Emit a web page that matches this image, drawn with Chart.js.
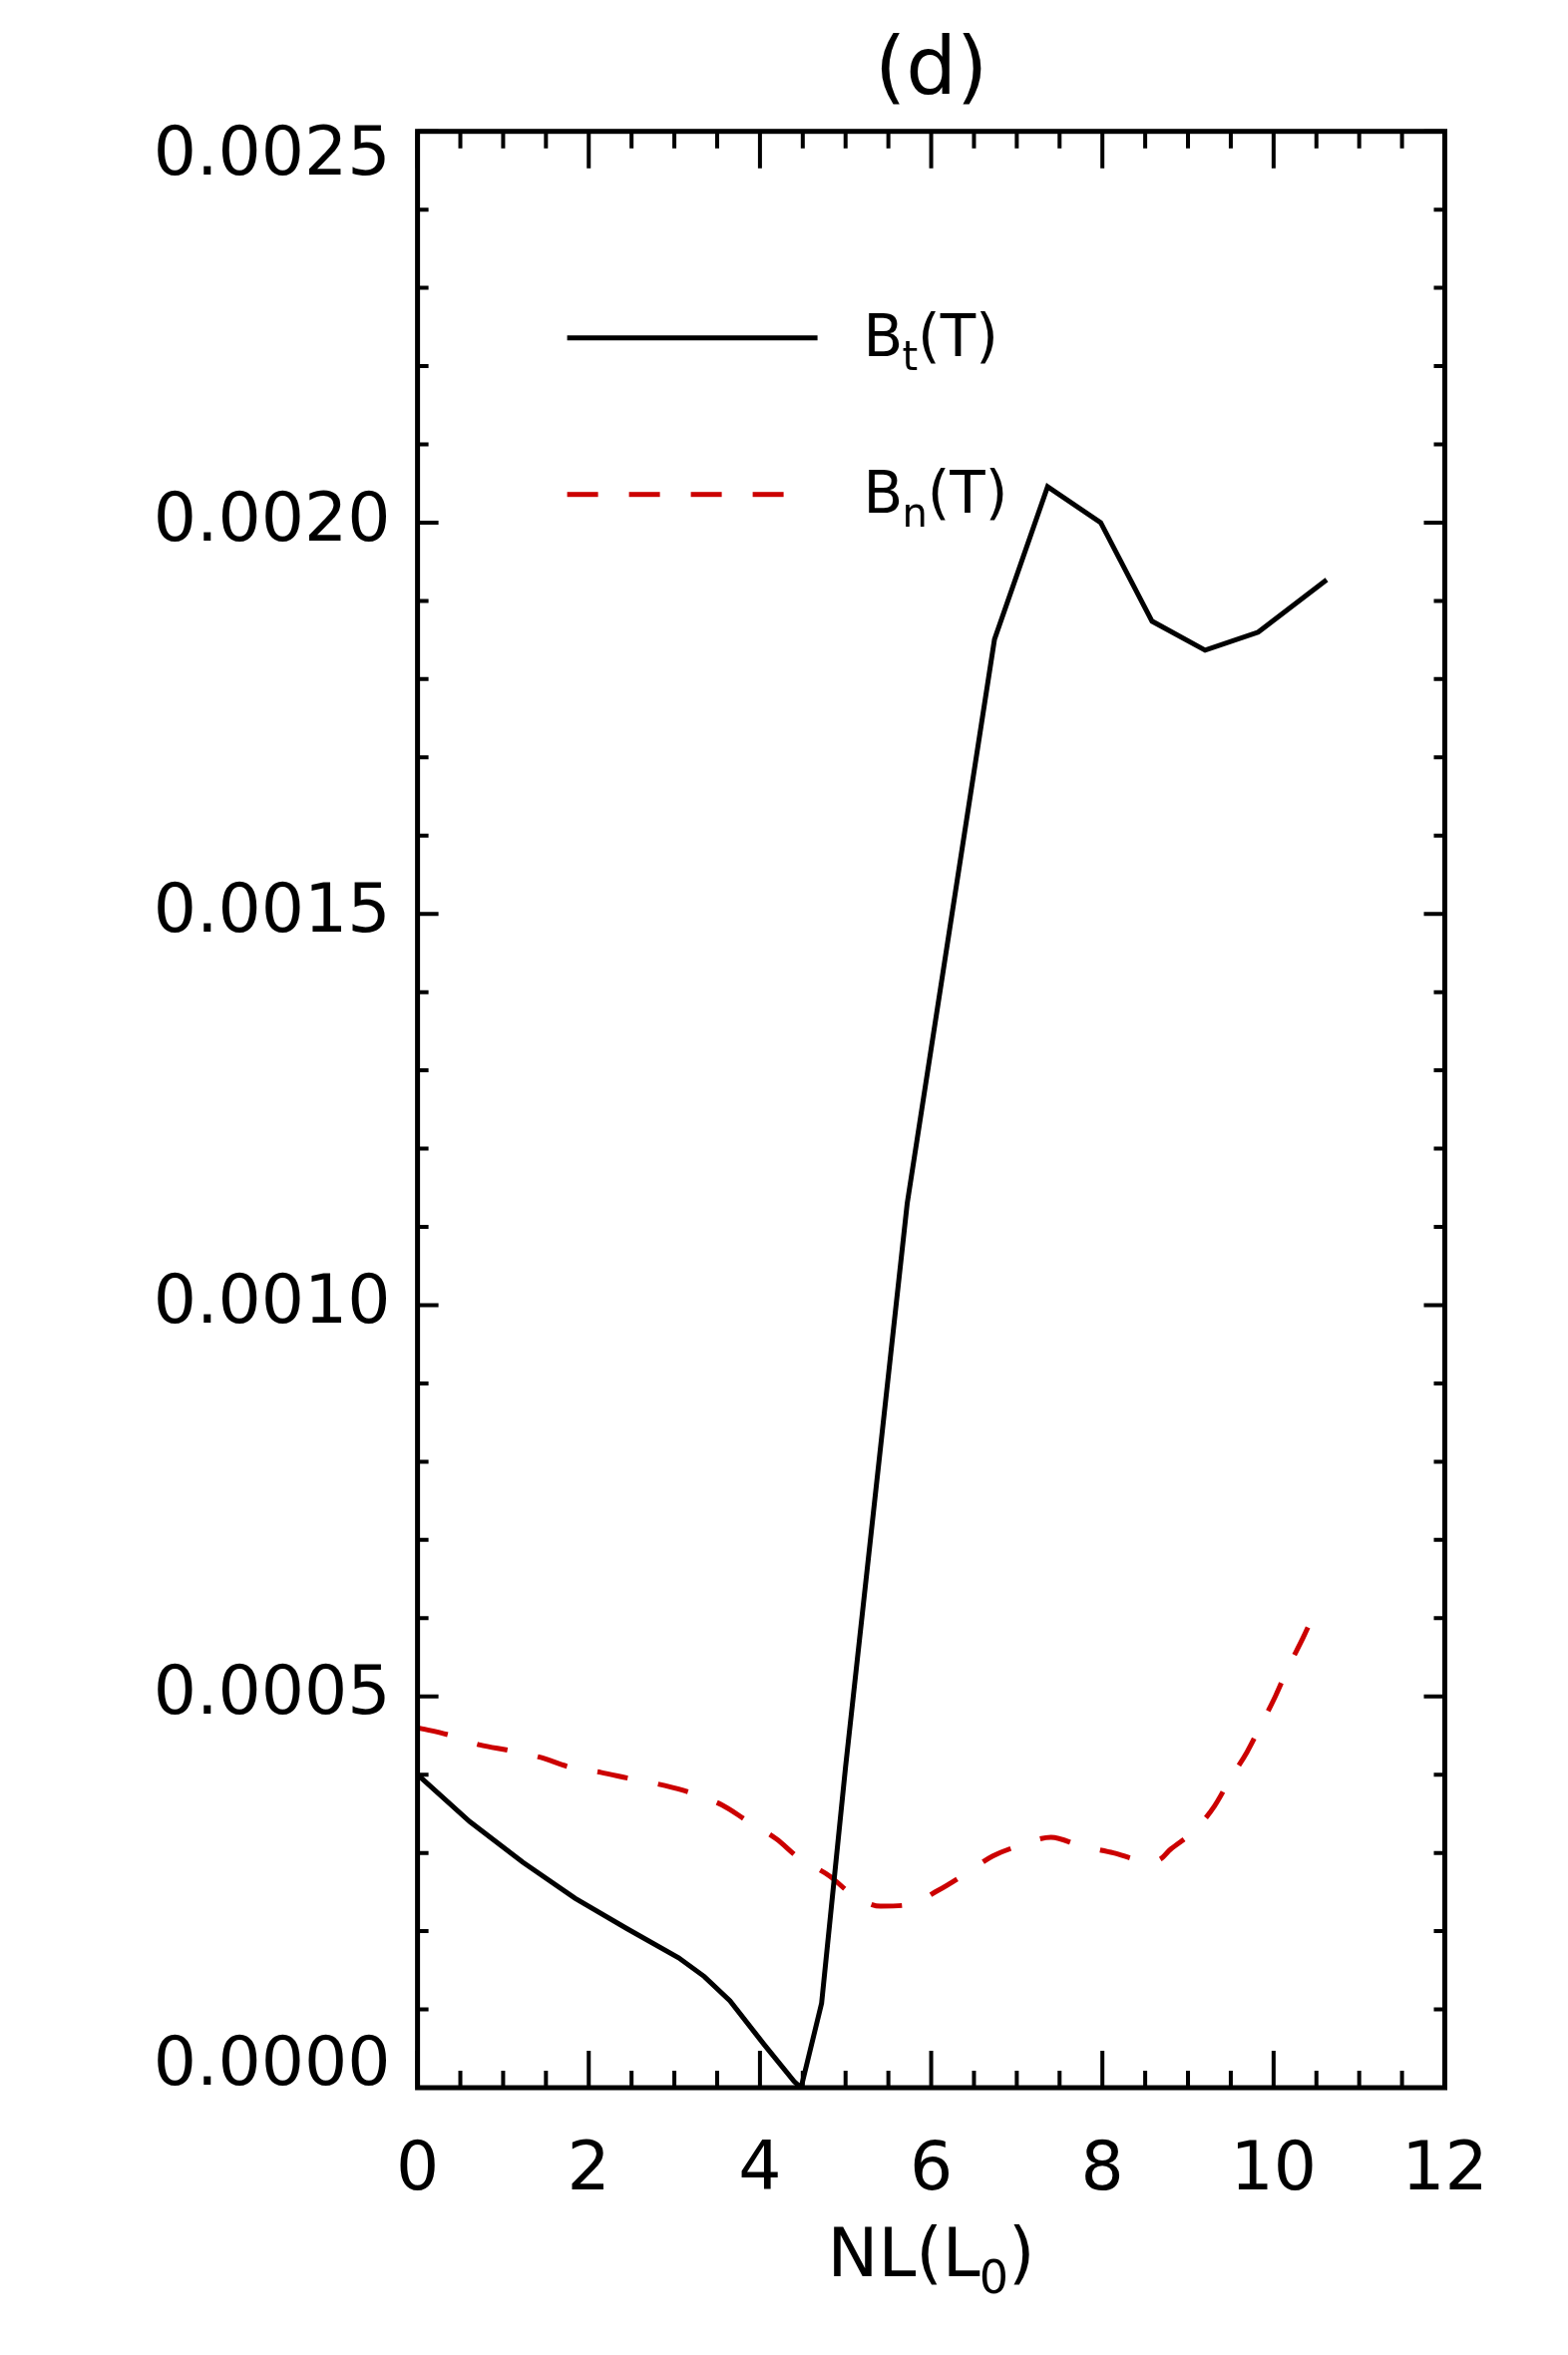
<!DOCTYPE html>
<html>
<head>
<meta charset="utf-8">
<title>(d)</title>
<script src="https://cdn.jsdelivr.net/npm/chart.js@4.4.0/dist/chart.umd.min.js"></script>
<style>
  html, body { margin: 0; padding: 0; background: #fff; }
  #wrap { width: 1572px; height: 2361px; }
</style>
</head>
<body>
<div id="wrap"><canvas id="myChart" width="1572" height="2361"></canvas></div>
<script>
// Bt(T), solid black
const btX = [0, 0.61, 1.23, 1.84, 2.45, 3.05, 3.35, 3.65, 4.05, 4.40, 4.48, 4.72, 5.00, 5.72, 6.74, 7.36, 7.98, 8.58, 9.20, 9.82, 10.62];
const btY = [0.000400, 0.000340, 0.000288, 0.000242, 0.000203, 0.000166, 0.000142, 0.000111, 0.000055, 0.000008, 0.0, 0.000108, 0.000410, 0.001130, 0.001851, 0.002046, 0.002000, 0.001874, 0.001837, 0.001860, 0.001927];

// Bn(T), red dashed
const bnX = [0, 0.36, 0.73, 1.07, 1.44, 1.77, 2.14, 2.48, 2.89, 3.19, 3.56, 3.85, 4.19, 4.45, 4.82, 5.04, 5.41, 5.75, 6.08, 6.41, 6.72, 7.05, 7.40, 7.75, 8.13, 8.50, 8.65, 8.80, 9.08, 9.31, 9.49, 9.69, 9.85, 10.02, 10.17, 10.34, 10.49];
const bnY = [0.000460, 0.000451, 0.000438, 0.000431, 0.000422, 0.000410, 0.000403, 0.000395, 0.000386, 0.000377, 0.000361, 0.000341, 0.000318, 0.000294, 0.000270, 0.000250, 0.000232, 0.000234, 0.000252, 0.000274, 0.000296, 0.000310, 0.000320, 0.000309, 0.000300, 0.000290, 0.000291, 0.000305, 0.000329, 0.000360, 0.000394, 0.000429, 0.000463, 0.000500, 0.000537, 0.000574, 0.000610];

const xTicks = [0, 2, 4, 6, 8, 10, 12];
const yTicks = [0, 0.0005, 0.0010, 0.0015, 0.0020, 0.0025];
const yTickLabels = ['0.0000', '0.0005', '0.0010', '0.0015', '0.0020', '0.0025'];

// legend names and x title: base, subscript, rest
const seriesNames = [['B', 't', '(T)'], ['B', 'n', '(T)']];
const xTitle = ['NL(L', '0', ')'];

const FONT = '"DejaVu Sans", "Liberation Sans", sans-serif';
const RED = '#cc0000';

function toPoints(xs, ys) {
  return xs.map(function (x, i) { return { x: x, y: ys[i] }; });
}

// draws base + lowered small subscript + rest, starting at tx
function drawSub(ctx, parts, tx, base, big, small, drop) {
  ctx.font = big + 'px ' + FONT;
  ctx.fillText(parts[0], tx, base);
  tx += ctx.measureText(parts[0]).width - 1;
  ctx.font = small + 'px ' + FONT;
  ctx.fillText(parts[1], tx, base + drop);
  tx += ctx.measureText(parts[1]).width;
  ctx.font = big + 'px ' + FONT;
  ctx.fillText(parts[2], tx, base);
}

function subWidth(ctx, parts, big, small) {
  ctx.font = big + 'px ' + FONT;
  let w = ctx.measureText(parts[0]).width + ctx.measureText(parts[2]).width - 1;
  ctx.font = small + 'px ' + FONT;
  return w + ctx.measureText(parts[1]).width;
}

// box with inward major/minor ticks on all four sides
const framePlugin = {
  id: 'frame',
  afterDatasetsDraw(chart) {
    const ctx = chart.ctx;
    const a = chart.chartArea;
    const x = chart.scales.x, y = chart.scales.y;
    ctx.save();
    ctx.strokeStyle = '#000';
    ctx.lineWidth = 4;
    ctx.beginPath();
    for (let i = 0; i <= 24; i++) {
      const px = x.getPixelForValue(i * 0.5);
      const len = (i % 4 === 0) ? 37 : 17;
      ctx.moveTo(px, a.bottom); ctx.lineTo(px, a.bottom - len);
      ctx.moveTo(px, a.top); ctx.lineTo(px, a.top + len);
    }
    for (let i = 0; i <= 25; i++) {
      const py = y.getPixelForValue(i * 0.0001);
      const len = (i % 5 === 0) ? 21 : 11;
      ctx.moveTo(a.left, py); ctx.lineTo(a.left + len, py);
      ctx.moveTo(a.right, py); ctx.lineTo(a.right - len, py);
    }
    ctx.stroke();
    ctx.lineWidth = 5;
    ctx.strokeRect(a.left, a.top, a.right - a.left, a.bottom - a.top);
    ctx.restore();
  }
};

// legend inside the plot and the x axis title, both with subscripts
const textPlugin = {
  id: 'subText',
  afterDatasetsDraw(chart) {
    const ctx = chart.ctx;
    const a = chart.chartArea;
    const x0 = a.left + 150;
    const rows = [a.top + 207, a.top + 364];
    const ends = [a.left + 401, a.left + 371];
    ctx.save();
    chart.data.datasets.forEach(function (ds, i) {
      const yy = rows[i];
      ctx.beginPath();
      ctx.strokeStyle = ds.borderColor;
      ctx.lineWidth = ds.borderWidth;
      ctx.setLineDash(ds.borderDash || []);
      ctx.moveTo(x0, yy);
      ctx.lineTo(ends[i], yy);
      ctx.stroke();
      ctx.setLineDash([]);
      ctx.fillStyle = '#000';
      ctx.textBaseline = 'alphabetic';
      ctx.textAlign = 'left';
      drawSub(ctx, seriesNames[i], a.left + 447, yy + 18, 58, 40, 14);
    });

    const w = subWidth(ctx, xTitle, 68, 46);
    const cx = (a.left + a.right) / 2;
    ctx.fillStyle = '#000';
    ctx.textBaseline = 'alphabetic';
    ctx.textAlign = 'left';
    drawSub(ctx, xTitle, cx - w / 2, a.bottom + 189, 68, 46, 17);
    ctx.restore();
  }
};

const ctx = document.getElementById('myChart').getContext('2d');
const myChart = new Chart(ctx, {
  type: 'scatter',
  data: {
    datasets: [{
      label: 'Bt(T)',
      data: toPoints(btX, btY),
      showLine: true,
      borderColor: '#000',
      borderWidth: 5,
      pointRadius: 0,
      tension: 0,
      fill: false
    }, {
      label: 'Bn(T)',
      data: toPoints(bnX, bnY),
      showLine: true,
      borderColor: RED,
      borderWidth: 5,
      borderDash: [31, 31],
      pointRadius: 0,
      cubicInterpolationMode: 'monotone',
      fill: false
    }]
  },
  options: {
    responsive: false,
    animation: false,
    devicePixelRatio: 1,
    layout: { padding: { left: 0, right: 123.5, top: 0, bottom: 0 } },
    plugins: {
      legend: { display: false },
      tooltip: { enabled: false },
      title: {
        display: true,
        text: '(d)',
        fullSize: false,
        color: '#000',
        font: { family: FONT, size: 80, weight: 'normal', lineHeight: 1.2 },
        padding: { top: 25, bottom: 10.7 }
      }
    },
    scales: {
      x: {
        type: 'linear',
        min: 0,
        max: 12,
        grid: { display: false, drawTicks: false },
        border: { display: false },
        afterBuildTicks: function (s) { s.ticks = xTicks.map(function (v) { return { value: v }; }); },
        afterFit: function (s) { s.height = 268; },
        ticks: {
          autoSkip: false,
          maxRotation: 0,
          padding: 44,
          color: '#000',
          font: { family: FONT, size: 68 }
        }
      },
      y: {
        type: 'linear',
        min: 0,
        max: 0.0025,
        grid: { display: false, drawTicks: false },
        border: { display: false },
        afterBuildTicks: function (s) { s.ticks = yTicks.map(function (v) { return { value: v }; }); },
        afterFit: function (s) { s.width = 418.6; },
        ticks: {
          autoSkip: false,
          padding: 27,
          color: '#000',
          font: function (c) {
            const last = yTicks.length - 1;
            if (c.index === 0) return { family: FONT, size: 68, lineHeight: 0.6 };
            if (c.index === last) return { family: FONT, size: 68, lineHeight: 0.74 };
            return { family: FONT, size: 68 };
          },
          callback: function (v, i) {
            const last = yTicks.length - 1;
            if (i === 0) return [yTickLabels[i], ''];
            if (i === last) return ['', yTickLabels[i]];
            return yTickLabels[i];
          }
        }
      }
    }
  },
  plugins: [framePlugin, textPlugin]
});
</script>
</body>
</html>
